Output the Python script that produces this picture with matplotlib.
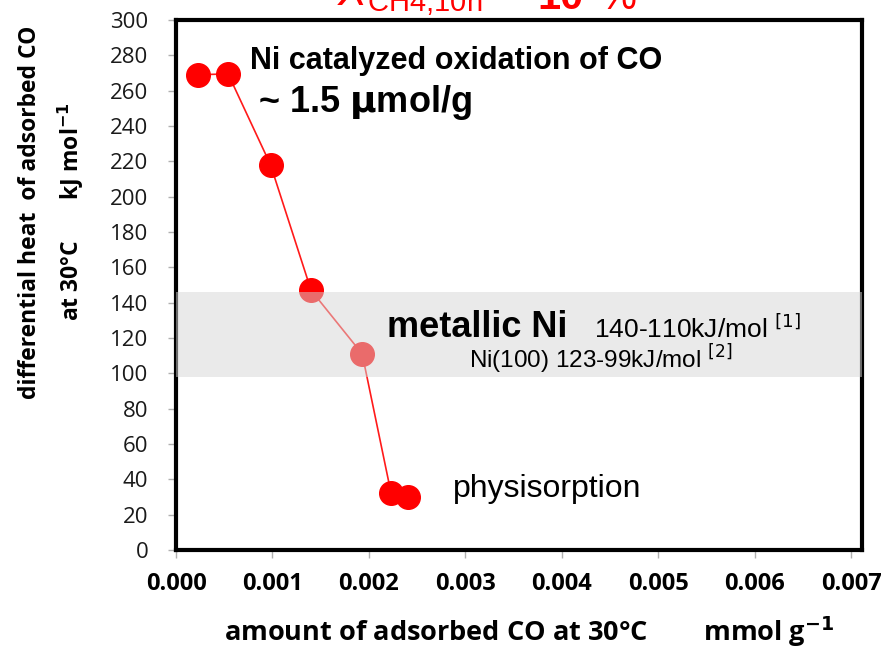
import matplotlib.pyplot as plt
import numpy as np

# data
amount_co = [0.00023, 0.00054, 0.00098, 0.00140, 0.00193, 0.00223, 0.00240]
diff_heat = [269, 269.5, 218, 147, 111, 32, 30]
x_ticks = [0.000, 0.001, 0.002, 0.003, 0.004, 0.005, 0.006, 0.007]
y_ticks = list(range(0, 301, 20))
metallic_band = (98, 145.8)

fig = plt.figure(figsize=(8.81, 6.49), dpi=100)
ax = fig.add_axes([0.1998, 0.1525, 0.7785, 0.8167])

ax.plot(amount_co, diff_heat, color='#ff1a1a', lw=1.2, marker='o',
        markersize=17, markerfacecolor='#ff0000', markeredgecolor='#ff0000', zorder=2)

# translucent grey band for the metallic Ni range
ax.axhspan(*metallic_band, color='#d6d6d6', alpha=0.5, lw=0, zorder=3)

ax.set_xlim(0, 0.00711)
ax.set_ylim(0, 300)
ax.set_xticks(x_ticks)
ax.set_xticklabels([f'{v:.3f}' for v in x_ticks], fontweight='bold', fontsize=17,
                   family='Open Sans')
ax.set_yticks(y_ticks)
ax.set_yticklabels([str(v) for v in y_ticks], fontsize=16, color='#1a1a1a',
                   family='Open Sans')
ax.tick_params(axis='both', direction='out', length=6, width=1, color='#b0b0b0')
ax.tick_params(axis='y', pad=14)
ax.tick_params(axis='x', pad=10)
for s in ax.spines.values():
    s.set_linewidth(3)
    s.set_color('black')

ax.set_ylabel('differential heat  of adsorbed CO\nat 30°C       kJ mol$^{\\mathbf{-1}}$',
              fontsize=16.5, fontweight='bold', linespacing=1.63, family='Open Sans',
              va='center')
ax.yaxis.set_label_coords(-0.181, 0.638)
ax.set_xlabel('amount of adsorbed CO at 30°C        mmol g$^{\\mathbf{-1}}$',
              fontsize=19.5, fontweight='bold', family='Open Sans', va='center')
ax.xaxis.set_label_coords(0.515, -0.155)

# annotations
ax.text(0.00077, 268.5, 'Ni catalyzed oxidation of CO', fontsize=22, fontweight='bold',
        family='Liberation Sans', va='bottom', zorder=5)
ax.text(0.00085, 242, '~ 1.5 $\\mathbf{\\mu}$mol/g', fontsize=26, fontweight='bold',
        family='Liberation Sans', va='bottom', zorder=5)
ax.text(0.00219, 116, 'metallic Ni', fontsize=26, fontweight='bold',
        family='Liberation Sans', va='bottom', zorder=5)
ax.text(0.00433, 117, '140-110kJ/mol $^{[1]}$', fontsize=19,
        family='Liberation Sans', va='bottom', zorder=5)
ax.text(0.00304, 98.5, 'Ni(100) 123-99kJ/mol $^{[2]}$', fontsize=17.5,
        family='Liberation Sans', va='bottom', zorder=5)
ax.text(0.00287, 26, 'physisorption', fontsize=23,
        family='Liberation Sans', va='bottom', zorder=5)

# red heading cut off by the top of the picture
fig.text(0.383, 0.9915, '$X_{\\mathregular{CH4{,}10h}}$', color='#ff0000', fontsize=30,
         family='Liberation Sans', va='baseline')
fig.text(0.610, 0.9862, '10', color='#ff0000', fontsize=30, fontweight='bold',
         family='Liberation Sans', va='baseline')
fig.text(0.681, 0.9862, '%', color='#ff0000', fontsize=30,
         family='Liberation Sans', va='baseline')

fig.savefig('out.png', dpi=100)
